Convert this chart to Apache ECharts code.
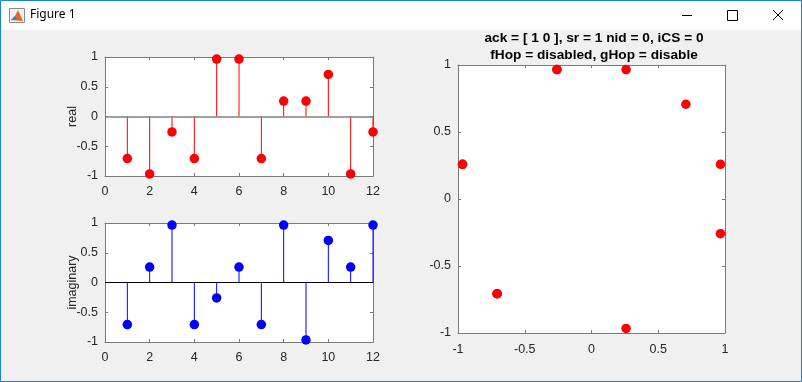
<!DOCTYPE html>
<html>
<head>
<meta charset="utf-8">
<script src="https://cdn.jsdelivr.net/npm/echarts@6/dist/echarts.min.js"></script>
<style>
html,body{margin:0;padding:0;background:#f0f0f0;}
#chart{width:802px;height:382px;}
</style>
</head>
<body>
<div id="chart"></div>
<script>
// ---- data ----
const sampleIndex = [1, 2, 3, 4, 5, 6, 7, 8, 9, 10, 11, 12];
const realValues = [-0.707, -0.966, -0.259, -0.707, 0.966, 0.966, -0.707, 0.259, 0.259, 0.707, -0.966, -0.259];
const imagValues = [-0.707, 0.259, 0.966, -0.707, -0.259, 0.259, -0.707, 0.966, -0.966, 0.707, 0.259, 0.966];
const titleLines = ['ack = [ 1 0 ], sr = 1 nid = 0, iCS = 0', 'fHop = disabled, gHop = disable'];
const realLabel = 'real';
const imagLabel = 'imaginary';
const windowTitle = 'Figure 1';

// ---- build ----
const realPairs = sampleIndex.map((x, i) => [x, realValues[i]]);
const imagPairs = sampleIndex.map((x, i) => [x, imagValues[i]]);
const iqPairs = realValues.map((r, i) => [r, imagValues[i]]);

const txt = '#262626';
const axCol = '#7a7a7a';
const font = 'Liberation Sans, Arial, sans-serif';

function xAx(grid, min, max, interval, show, margin) {
  return {
    type: 'value', gridIndex: grid, min, max, interval,
    position: show ? 'bottom' : 'top',
    axisLine: {show: true, onZero: false, lineStyle: {color: axCol, width: 1}},
    axisTick: {show: true, inside: true, length: 3, lineStyle: {color: axCol}},
    axisLabel: {show: show, color: txt, fontSize: 12.5, fontFamily: font, margin: margin || 8},
    splitLine: {show: false}
  };
}
function yAx(grid, min, max, interval, show, name) {
  return {
    type: 'value', gridIndex: grid, min, max, interval,
    position: show ? 'left' : 'right',
    name: name || '', nameLocation: 'middle', nameGap: 26, nameMoveOverlap: false,
    nameTextStyle: {color: txt, fontSize: 12.5, fontFamily: font},
    axisLine: {show: true, onZero: false, lineStyle: {color: axCol, width: 1}},
    axisTick: {show: true, inside: true, length: 3, lineStyle: {color: axCol}},
    axisLabel: {show: show, color: txt, fontSize: 12.5, fontFamily: font, margin: 7},
    splitLine: {show: false}
  };
}
function stemSeries(xi, yi, data, color, baseColor, baseWidth) {
  return {
    type: 'custom', xAxisIndex: xi, yAxisIndex: yi, data: data, z: 3, clip: false,
    renderItem: function (params, api) {
      const x = api.value(0), y = api.value(1);
      const p0 = api.coord([x, 0]);
      const p1 = api.coord([x, y]);
      return {type: 'line', shape: {x1: p0[0], y1: p0[1], x2: p1[0], y2: p1[1]},
        style: {stroke: color, lineWidth: 1}};
    },
    markLine: {
      silent: true, symbol: 'none', label: {show: false},
      lineStyle: {color: baseColor, width: baseWidth, type: 'solid'},
      data: [{yAxis: 0}], animation: false
    }
  };
}
function dotSeries(xi, yi, data, color) {
  return {
    type: 'scatter', xAxisIndex: xi, yAxisIndex: yi, data: data, z: 4, clip: false,
    symbol: 'circle', symbolSize: 9.5, itemStyle: {color: color, opacity: 1}
  };
}

const chart = echarts.init(document.getElementById('chart'), null, {renderer: 'canvas'});
chart.setOption({
  animation: false,
  backgroundColor: '#f0f0f0',
  title: {
    text: titleLines.join('\n'),
    left: 589, top: 24, textAlign: 'center',
    textStyle: {fontSize: 13.7, fontWeight: 'bold', color: '#000', fontFamily: font, lineHeight: 17.6}
  },
  grid: [
    {left: 105, top: 57, width: 268, height: 119, show: true, backgroundColor: '#fff', borderWidth: 0},
    {left: 105, top: 223, width: 268, height: 119, show: true, backgroundColor: '#fff', borderWidth: 0},
    {left: 458, top: 65, width: 267, height: 268, show: true, backgroundColor: '#fff', borderWidth: 0}
  ],
  xAxis: [
    xAx(0, 0, 12, 2, true, 9), xAx(0, 0, 12, 2, false),
    xAx(1, 0, 12, 2, true, 9), xAx(1, 0, 12, 2, false),
    xAx(2, -1, 1, 0.5, true, 10), xAx(2, -1, 1, 0.5, false)
  ],
  yAxis: [
    yAx(0, -1, 1, 0.5, true, realLabel), yAx(0, -1, 1, 0.5, false),
    yAx(1, -1, 1, 0.5, true, imagLabel), yAx(1, -1, 1, 0.5, false),
    yAx(2, -1, 1, 0.5, true), yAx(2, -1, 1, 0.5, false)
  ],
  series: [
    stemSeries(0, 0, realPairs, '#ff0000', '#808080', 1.5),
    dotSeries(0, 0, realPairs, '#ff0000'),
    stemSeries(2, 2, imagPairs, '#0000ff', '#000000', 1),
    dotSeries(2, 2, imagPairs, '#0000ff'),
    dotSeries(4, 4, iqPairs, '#ff0000')
  ],
  graphic: [
    {type: 'rect', shape: {x: 0, y: 0, width: 802, height: 30}, style: {fill: '#ffffff'}, z: 0},
    {type: 'rect', shape: {x: 9.5, y: 8.5, width: 15, height: 14}, style: {fill: '#eef2f7', stroke: '#8a8a8a', lineWidth: 1}},
    {type: 'polygon', shape: {points: [[11, 20], [15, 16], [18, 10], [23, 21]]}, style: {fill: '#e8661a'}},
    {type: 'polygon', shape: {points: [[11, 20], [15, 16], [17, 19]]}, style: {fill: '#3b7dc4'}},
    {type: 'text', left: 30, top: 9, style: {text: windowTitle, fill: '#000', font: '12px "Noto Sans", sans-serif'}},
    {type: 'line', shape: {x1: 682, y1: 15.5, x2: 692, y2: 15.5}, style: {stroke: '#000', lineWidth: 1}},
    {type: 'rect', shape: {x: 727.5, y: 10.5, width: 10, height: 10}, style: {fill: 'none', stroke: '#000', lineWidth: 1}},
    {type: 'line', shape: {x1: 773, y1: 10, x2: 783, y2: 20}, style: {stroke: '#000', lineWidth: 1}},
    {type: 'line', shape: {x1: 773, y1: 20, x2: 783, y2: 10}, style: {stroke: '#000', lineWidth: 1}},
    {type: 'rect', shape: {x: 0.5, y: 0.5, width: 801, height: 381}, style: {fill: 'none', stroke: '#1883d7', lineWidth: 1}}
  ]
});
</script>
</body>
</html>
